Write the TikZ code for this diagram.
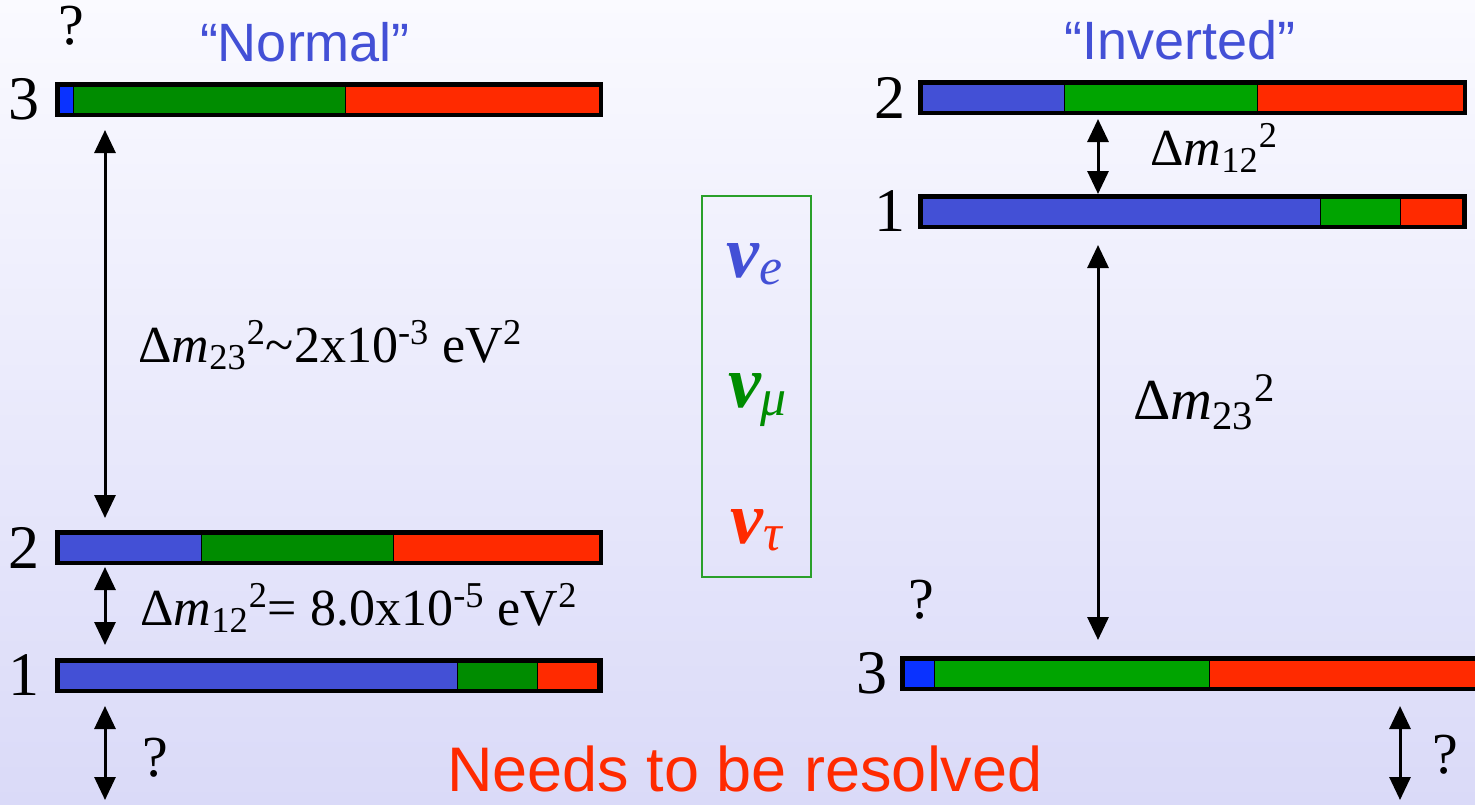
\documentclass[tikz,border=0pt]{standalone}
\usepackage{fontspec}
\setmainfont{Liberation Serif}
\newfontfamily\arialf{Liberation Sans}
\usetikzlibrary{arrows.meta, calc}
\definecolor{bgtop}{HTML}{FAFAFF}
\definecolor{bgbot}{HTML}{DADAF8}
\definecolor{nue}{HTML}{4350D6}
\definecolor{nueb}{HTML}{0A32FF}
\definecolor{numud}{HTML}{008C00}
\definecolor{numub}{HTML}{00A400}
\definecolor{nutau}{HTML}{FF2A00}
\definecolor{boxgreen}{HTML}{2AA02A}
\tikzset{
  seg/.style={draw=black, line width=0.3pt},
  lnum/.style={font=\fontsize{31}{33}\selectfont, inner sep=0pt},
  dlab/.style={font=\fontsize{26}{28}\selectfont, inner sep=0pt, anchor=west},
  qm/.style={font=\fontsize{29}{31}\selectfont, inner sep=0pt},
  dm/.style={{Triangle[width=10.5pt,length=11.5pt]}-{Triangle[width=10.5pt,length=11.5pt]}, line width=1.5pt},
  hier/.style={font=\arialf\fontsize{27}{30}\selectfont, text=nue, inner sep=0pt},
  flav/.style={font=\fontsize{37}{39}\selectfont\bfseries\itshape, inner sep=0pt},
  fbox/.style={draw=boxgreen, line width=1pt}
}
% #1 name, #2 left, #3 top, #4 right, #5 blue end, #6 green end, #7 red end, #8 blue, #9 green
\newcommand{\lev}[9]{%
  \fill (#2,#3) rectangle (#4,#3+35);
  \filldraw[seg, fill=#8] (#2+4,#3+4) rectangle (#5,#3+31);
  \filldraw[seg, fill=#9] (#5,#3+4) rectangle (#6,#3+31);
  \filldraw[seg, fill=nutau] (#6,#3+4) rectangle (#7,#3+31);
  \coordinate (#1n) at (#2,#3);
  \coordinate (#1s) at (#2,#3+35);
  \coordinate (#1w) at (#2,#3+17.5);}
\newcommand{\dmsq}[1]{Δ\textit{m}\textsubscript{#1}\textsuperscript{2}}
\newcommand{\flsub}[1]{\textsubscript{\mdseries #1}}
\begin{document}
\begin{tikzpicture}[x=0.5pt, y=-0.5pt]
  \clip (0,0) rectangle (1475,804);
  \shade[top color=bgtop, bottom color=bgbot] (0,0) rectangle (1475,804);
  % normal hierarchy
  \lev{L3}{55}{82}{603}{73}{345}{599}{nueb}{numud}
  \lev{L2}{55}{530}{603}{201}{393}{599}{nue}{numud}
  \lev{L1}{55}{658}{603}{457}{537}{597}{nue}{numud}
  % inverted hierarchy
  \lev{R2}{918}{80}{1467}{1064}{1257}{1463}{nue}{numub}
  \lev{R1}{918}{194}{1467}{1320}{1400}{1462}{nue}{numub}
  \lev{R3}{900}{656}{1490}{934}{1209}{1490}{nueb}{numub}
  \node[lnum, anchor=east] (nL3) at ([xshift=-7.5pt]L3w) {3};
  \node[lnum, anchor=east] (nL2) at ([xshift=-7.5pt]L2w) {2};
  \node[lnum, anchor=east] (nL1) at ([xshift=-7.5pt]L1w) {1};
  \node[lnum, anchor=east] (nR2) at ([xshift=-6pt]R2w) {2};
  \node[lnum, anchor=east] (nR1) at ([xshift=-6pt]R1w) {1};
  \node[lnum, anchor=east] (nR3) at ([xshift=-6pt]R3w) {3};
  \node[hier] (hn) at (305,42) {“Normal”};
  \node[hier] (hi) at (1180,40) {“Inverted”};
  % splittings
  \coordinate (aL) at (105,0);
  \coordinate (aR) at (1098,0);
  \coordinate (aQ) at (1400,0);
  \coordinate (qL) at (105,800);
  \coordinate (qR) at (1400,800);
  \draw[dm, shorten <=6.5pt, shorten >=6pt] (L3s -| aL) -- (L2n -| aL);
  \draw[dm, shorten <=1pt, shorten >=6.5pt] (L2s -| aL) -- (L1n -| aL);
  \draw[dm, shorten <=6.5pt] (L1s -| aL) -- (qL);
  \draw[dm, shorten <=2pt] (R2s -| aR) -- (R1n -| aR);
  \draw[dm, shorten <=8pt, shorten >=8pt] (R1s -| aR) -- (R3n -| aR);
  \draw[dm, shorten <=7.5pt] (R3s -| aQ) -- (qR);
  \node[dlab] (dL23) at (138,345) {\dmsq{23}\textasciitilde 2x10\textsuperscript{-3} eV\textsuperscript{2}};
  \node[dlab] (dL12) at (140,608) {\dmsq{12}= 8.0x10\textsuperscript{-5} eV\textsuperscript{2}};
  \node[dlab] (dR12) at (1150,148) {\dmsq{12}};
  \node[dlab, font=\fontsize{29}{31}\selectfont] (dR23) at (1133,402) {\dmsq{23}};
  \node[qm] (q1) at (71,26) {?};
  \node[qm] (q2) at (921,600) {?};
  \node[qm] (q3) at (155,758) {?};
  \node[qm] (q4) at (1445,755) {?};
  % flavour key
  \draw[fbox] (702,196) rectangle (811,577);
  \node[flav, text=nue] (fe) at (755,264) {ν\flsub{e}};
  \node[flav, text=numud] (fm) at (758,400) {ν\flsub{μ}};
  \node[flav, text=nutau] (ft) at (757,530) {ν\flsub{τ}};
  \node[font=\arialf\fontsize{31.5}{34}\selectfont, text=nutau, inner sep=0pt] (res) at (745,769) {Needs to be resolved};
\end{tikzpicture}
\end{document}
